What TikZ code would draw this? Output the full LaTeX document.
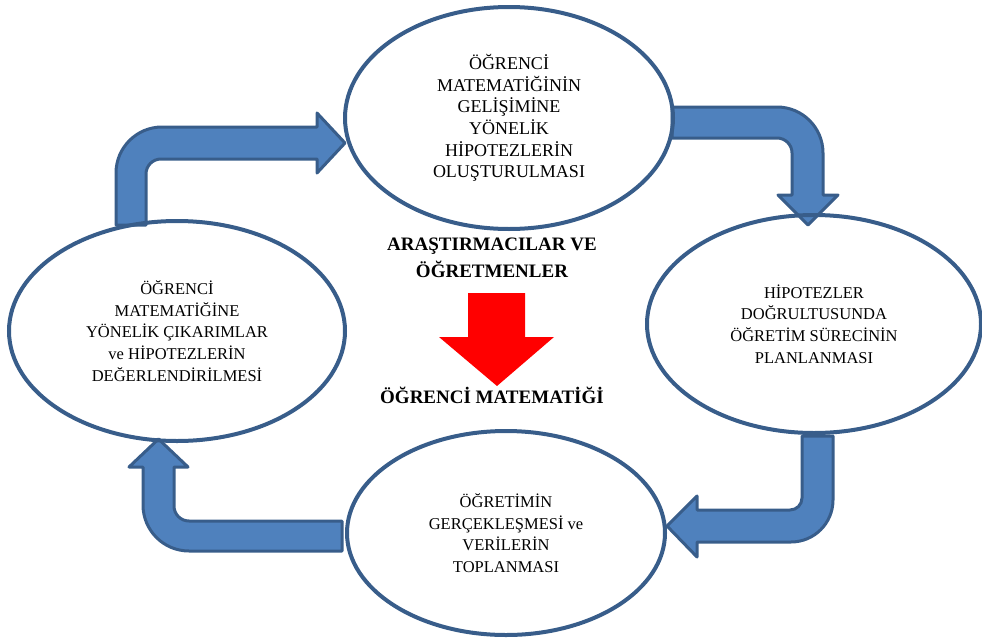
\documentclass[tikz,border=0pt]{standalone}
\usepackage{fontspec}
\setmainfont{Liberation Serif}
\usetikzlibrary{shapes.geometric,backgrounds}
\definecolor{arrowfill}{HTML}{4F81BD}
\definecolor{arrowline}{HTML}{385D8A}

\begin{document}
\begin{tikzpicture}[
  x=1pt, y=-1pt,
  stage/.style={
    draw=arrowline,
    line width=4pt,
    ellipse,
    align=center,
    inner sep=0pt,
    font=\fontsize{16.5}{21.7}\selectfont
  },
  bigstage/.style={
    stage,
    font=\fontsize{18}{21.7}\selectfont
  },
  fatarrow/.style={
    draw=arrowline,
    fill=arrowfill,
    line width=3pt,
    line join=round
  },
  caption/.style={
    align=center,
    font=\bfseries\fontsize{19}{27}\selectfont
  }
]

\useasboundingbox (0,0) rectangle (982,637);

% --- Cycle stages ---
\node[bigstage,minimum width=328pt,minimum height=222pt] (hyp) at (509,118)
{ÖĞRENCİ\\MATEMATİĞİNİN\\GELİŞİMİNE\\YÖNELİK\\HİPOTEZLERİN\\OLUŞTURULMASI};

\node[stage,minimum width=334pt,minimum height=218pt] (plan) at (814,324)
{HİPOTEZLER\\DOĞRULTUSUNDA\\ÖĞRETİM SÜRECİNİN\\PLANLANMASI};

\node[stage,minimum width=318pt,minimum height=204pt] (data) at (506,533)
{ÖĞRETİMİN\\GERÇEKLEŞMESİ ve\\VERİLERİN\\TOPLANMASI};

\node[stage,minimum width=336pt,minimum height=220pt] (eval) at (177,331)
{ÖĞRENCİ\\MATEMATİĞİNE\\YÖNELİK ÇIKARIMLAR\\ve HİPOTEZLERİN\\DEĞERLENDİRİLMESİ};

% --- Centre ---
\node[caption] (actors) at (492,258) {ARAŞTIRMACILAR VE\\ÖĞRETMENLER};
\node[caption] (focus) at (492,395) {ÖĞRENCİ MATEMATİĞİ};

\fill[red] (468,293) -- (525,293) -- (525,337) -- (554,337) -- (497,386)
  -- (439,337) -- (468,337) -- cycle;

% --- Bent arrows (behind the ellipse outlines) ---
\begin{scope}[on background layer]
% eval -> hyp
\draw[fatarrow] (116,225) -- (116,173) arc[start angle=180,end angle=270,radius=46]
  -- (317,127) -- (317,113) -- (345,143) -- (317,173) -- (317,159)
  -- (161,159) arc[start angle=270,end angle=180,radius=15] -- (146,225) -- cycle;
% hyp -> plan
\draw[fatarrow] (672,107) -- (777,107) arc[start angle=270,end angle=360,radius=46]
  -- (823,195) -- (838,195) -- (808,225) -- (778,195) -- (792,195)
  -- (792,153) arc[start angle=0,end angle=-90,radius=15] -- (672,138) -- cycle;
% plan -> data
\draw[fatarrow] (802,436) -- (833,436) -- (833,500) arc[start angle=0,end angle=90,radius=42]
  -- (697,542) -- (697,557) -- (667,526) -- (697,496) -- (697,510)
  -- (790,510) arc[start angle=90,end angle=0,radius=12] -- cycle;
% data -> eval
\draw[fatarrow] (342,521) -- (342,551) -- (189,551) arc[start angle=90,end angle=180,radius=46]
  -- (143,467) -- (129,467) -- (158.5,439) -- (188,467) -- (174,467)
  -- (174,506) arc[start angle=180,end angle=90,radius=15] -- cycle;
\end{scope}

\end{tikzpicture}
\end{document}
